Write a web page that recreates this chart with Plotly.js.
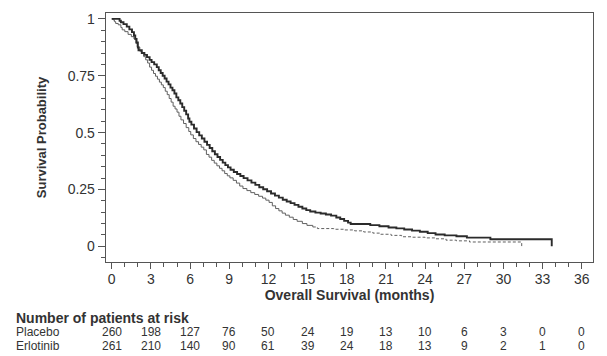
<!DOCTYPE html>
<html>
<head>
<meta charset="utf-8">
<script src="https://cdn.plot.ly/plotly-3.0.1.min.js"></script>
<style>
  html, body { margin: 0; padding: 0; background: #fff; }
  #chart { width: 607px; height: 356px; }
</style>
</head>
<body>
<div id="chart"></div>
<script>
// ---- Data ----
const erlotinibTime = [0, 0.5, 0.6, 0.7, 0.9, 1.15, 1.35, 1.55, 1.7, 1.8, 1.9, 2.0, 2.05, 2.3, 2.5, 2.7, 2.9, 3.05, 3.25, 3.45, 3.6, 3.75, 3.9, 4.05, 4.2, 4.35, 4.5, 4.65, 4.8, 4.95, 5.1, 5.25, 5.4, 5.55, 5.7, 5.85, 5.95, 6.1, 6.3, 6.5, 6.7, 6.9, 7.1, 7.3, 7.5, 7.7, 7.9, 8.1, 8.3, 8.5, 8.7, 8.9, 9.1, 9.35, 9.6, 9.85, 10.1, 10.4, 10.7, 11.0, 11.3, 11.6, 11.9, 12.2, 12.5, 12.8, 13.1, 13.4, 13.7, 14.0, 14.3, 14.6, 14.9, 15.2, 15.6, 16.0, 16.4, 16.8, 17.2, 17.5, 17.8, 18.1, 18.3, 19.8, 20.5, 21.2, 21.8, 22.4, 23.0, 23.6, 24.2, 24.8, 25.5, 26.4, 27.2, 29.0, 33.7];
const erlotinibSurv = [1, 1, 0.992, 0.985, 0.977, 0.966, 0.954, 0.942, 0.927, 0.912, 0.896, 0.874, 0.862, 0.85, 0.842, 0.832, 0.82, 0.81, 0.8, 0.788, 0.774, 0.762, 0.75, 0.738, 0.724, 0.712, 0.698, 0.686, 0.672, 0.655, 0.642, 0.628, 0.612, 0.596, 0.58, 0.562, 0.548, 0.535, 0.518, 0.502, 0.488, 0.474, 0.46, 0.446, 0.432, 0.418, 0.405, 0.393, 0.38, 0.368, 0.357, 0.347, 0.337, 0.327, 0.318, 0.309, 0.3, 0.29, 0.28, 0.27, 0.26, 0.251, 0.242, 0.232, 0.223, 0.214, 0.205, 0.197, 0.19, 0.182, 0.174, 0.166, 0.159, 0.153, 0.148, 0.144, 0.14, 0.135, 0.127, 0.12, 0.112, 0.104, 0.098, 0.093, 0.088, 0.083, 0.079, 0.074, 0.069, 0.064, 0.058, 0.052, 0.048, 0.044, 0.038, 0.031, 0];

const placeboTime = [0, 0.1, 0.2, 0.3, 0.5, 0.7, 0.8, 1.0, 1.25, 1.5, 1.7, 1.85, 1.95, 2.15, 2.3, 2.45, 2.6, 2.75, 2.9, 3.05, 3.2, 3.35, 3.5, 3.65, 3.8, 3.95, 4.1, 4.25, 4.4, 4.55, 4.7, 4.85, 5.0, 5.15, 5.3, 5.5, 5.7, 5.9, 6.05, 6.25, 6.45, 6.65, 6.85, 7.05, 7.25, 7.45, 7.65, 7.85, 8.05, 8.25, 8.45, 8.65, 8.85, 9.05, 9.3, 9.55, 9.8, 10.05, 10.35, 10.65, 10.95, 11.25, 11.55, 11.8, 12.05, 12.3, 12.55, 12.8, 13.05, 13.3, 13.6, 13.9, 14.2, 14.6, 14.95, 15.4, 15.75, 17.0, 17.8, 18.6, 19.3, 20.0, 20.6, 21.4, 22.2, 23.0, 24.0, 24.8, 25.6, 26.4, 27.4, 31.4];
const placeboSurv = [1, 0.996, 0.988, 0.98, 0.974, 0.962, 0.952, 0.944, 0.932, 0.922, 0.912, 0.893, 0.876, 0.858, 0.848, 0.834, 0.82, 0.806, 0.788, 0.774, 0.76, 0.748, 0.735, 0.722, 0.71, 0.698, 0.682, 0.667, 0.65, 0.634, 0.616, 0.604, 0.59, 0.572, 0.556, 0.54, 0.522, 0.505, 0.49, 0.474, 0.46, 0.448, 0.436, 0.424, 0.404, 0.392, 0.378, 0.366, 0.354, 0.343, 0.332, 0.32, 0.31, 0.301, 0.29, 0.278, 0.265, 0.254, 0.245, 0.236, 0.228, 0.22, 0.212, 0.203, 0.193, 0.178, 0.166, 0.156, 0.146, 0.137, 0.128, 0.118, 0.11, 0.1, 0.092, 0.085, 0.078, 0.075, 0.072, 0.068, 0.063, 0.058, 0.053, 0.048, 0.042, 0.04, 0.037, 0.033, 0.027, 0.024, 0.019, 0];

const riskTimes = [0, 3, 6, 9, 12, 15, 18, 21, 24, 27, 30, 33, 36];
const placeboRisk = [260, 198, 127, 76, 50, 24, 19, 13, 10, 6, 3, 0, 0];
const erlotinibRisk = [261, 210, 140, 90, 61, 39, 24, 18, 13, 9, 2, 1, 0];
const groupNames = ['Placebo', 'Erlotinib'];

// ---- Styling / layout ----
const FONT = 'Arial, Liberation Sans, sans-serif';
const TXT = '#333333';
const AX = '#555555';

const W = 607, H = 356;
const mL = 106, mR = 14, mT = 13, mB = 94;
const plotH = H - mT - mB;
function paperY(px) { return (H - mB - px) / plotH; }

const splitAt = 15.4;
const splitIdx = placeboTime.indexOf(splitAt);

const traces = [
  {
    x: placeboTime.slice(0, splitIdx + 1), y: placeboSurv.slice(0, splitIdx + 1),
    mode: 'lines', line: {shape: 'hv', color: '#606060', width: 1},
    name: 'Placebo', showlegend: false, hoverinfo: 'skip'
  },
  {
    x: placeboTime.slice(splitIdx), y: placeboSurv.slice(splitIdx),
    mode: 'lines', line: {shape: 'hv', color: '#606060', width: 1, dash: '3px,2px'},
    name: 'Placebo', showlegend: false, hoverinfo: 'skip'
  },
  {
    x: erlotinibTime, y: erlotinibSurv,
    mode: 'lines', line: {shape: 'hv', color: '#2b2b2b', width: 1.9},
    name: 'Erlotinib', showlegend: false, hoverinfo: 'skip'
  }
];

const annotations = [];
const leftX = (14 - mL) / (W - mL - mR);
annotations.push({
  text: '<b>Number of patients at risk</b>', xref: 'paper', yref: 'paper',
  x: leftX, y: paperY(318), xanchor: 'left', yanchor: 'middle',
  showarrow: false, font: {family: FONT, size: 14, color: TXT}
});
const rows = [placeboRisk, erlotinibRisk];
const rowY = [332, 346];
rows.forEach((row, r) => {
  annotations.push({
    text: groupNames[r], xref: 'paper', yref: 'paper',
    x: leftX, y: paperY(rowY[r]), xanchor: 'left', yanchor: 'middle',
    showarrow: false, font: {family: FONT, size: 12, color: TXT}
  });
  row.forEach((v, i) => {
    annotations.push({
      text: String(v), xref: 'x', yref: 'paper',
      x: riskTimes[i], y: paperY(rowY[r]), xanchor: 'center', yanchor: 'middle',
      showarrow: false, font: {family: FONT, size: 12, color: TXT}
    });
  });
});

const layout = {
  width: W, height: H,
  margin: {l: mL, r: mR, t: mT, b: mB, pad: 0},
  paper_bgcolor: '#ffffff', plot_bgcolor: '#ffffff',
  font: {family: FONT, color: TXT, size: 13},
  showlegend: false,
  xaxis: {
    range: [-0.44, 36.86],
    tickmode: 'array', tickvals: riskTimes, ticktext: riskTimes.map(String),
    ticks: 'outside', ticklen: 6, tickwidth: 1, tickcolor: AX,
    ticklabelstandoff: -2,
    minor: {tickmode: 'linear', tick0: 0, dtick: 1, ticks: 'outside', ticklen: 4, tickcolor: AX, tickwidth: 1},
    showline: true, linecolor: AX, linewidth: 1.3, mirror: true,
    showgrid: false, zeroline: false,
    tickfont: {family: FONT, size: 14, color: TXT},
    title: {text: '<b>Overall Survival (months)</b>', font: {family: FONT, size: 14, color: TXT}, standoff: 4}
  },
  yaxis: {
    range: [-0.069, 1.026],
    tickmode: 'linear', tick0: 0, dtick: 0.25,
    ticks: 'outside', ticklen: 7, tickwidth: 1, tickcolor: AX,
    minor: {tickmode: 'linear', tick0: 0, dtick: 0.05, ticks: 'outside', ticklen: 4, tickcolor: AX, tickwidth: 1},
    showline: true, linecolor: AX, linewidth: 1.3, mirror: true,
    showgrid: false, zeroline: false,
    tickfont: {family: FONT, size: 14, color: TXT},
    title: {text: '<b>Survival Probability</b>', font: {family: FONT, size: 13, color: TXT}, standoff: 18}
  },
  annotations: annotations
};

Plotly.newPlot('chart', traces, layout, {staticPlot: true, displayModeBar: false});
</script>
</body>
</html>
